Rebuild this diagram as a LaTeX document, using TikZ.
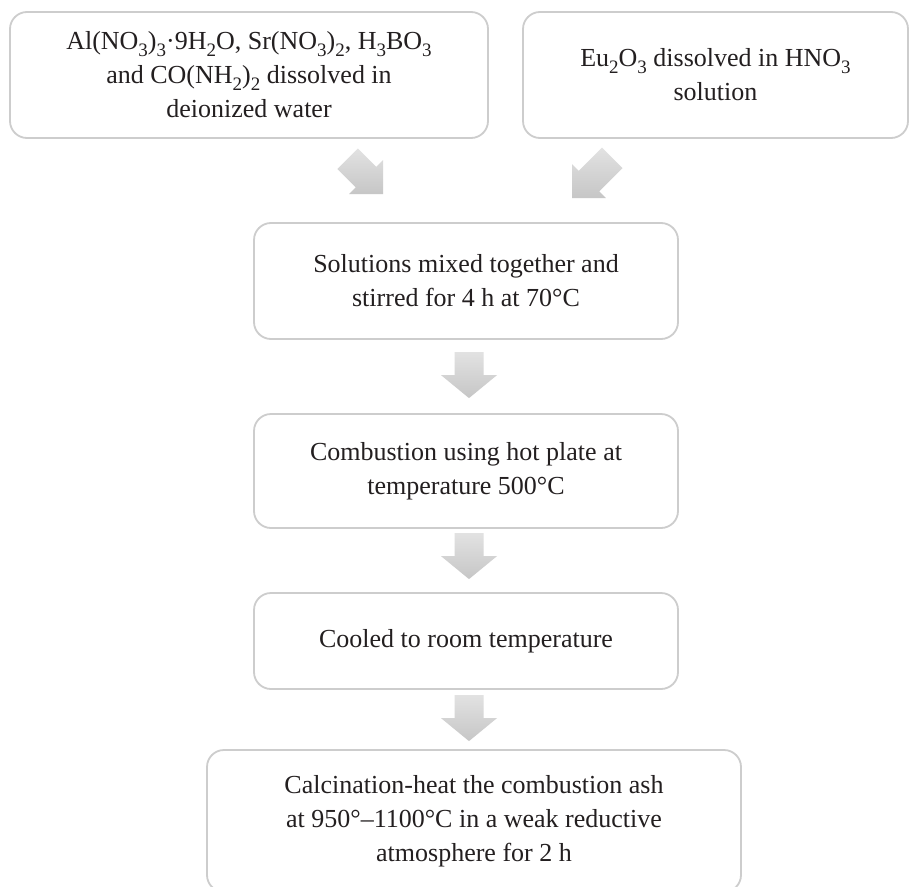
\documentclass[tikz,border=0pt]{standalone}
\usepackage{fontspec}
\setmainfont{Liberation Serif}
\usetikzlibrary{calc}
\definecolor{boxline}{RGB}{205,205,205}
\definecolor{arrtop}{RGB}{226,226,226}
\definecolor{arrbot}{RGB}{198,198,198}
\definecolor{txt}{RGB}{35,31,32}
\newcommand{\chsub}[1]{\raisebox{-0.26em}{\fontsize{19}{19}\selectfont #1}}
\newcommand{\varrow}[1]{%
  \shade[arrowshade] ($(#1)+(-14.5,-46)$) -- ($(#1)+(14.5,-46)$) -- ($(#1)+(14.5,-23)$)
    -- ($(#1)+(28,-23)$) -- (#1) -- ($(#1)+(-28,-23)$) -- ($(#1)+(-14.5,-23)$) -- cycle;}
\begin{document}
\begin{tikzpicture}[x=1pt,y=-1pt,
  stepbox/.style={draw=boxline,line width=1.8pt,rounded corners=17pt,fill=white,
    align=center,text=txt,font=\fontsize{26}{34}\selectfont,inner sep=0pt},
  arrowshade/.style={top color=arrtop,bottom color=arrbot,draw=none}]
\clip (0,0) rectangle (910,886);
\fill[white] (0,0) rectangle (910,886);
\node[stepbox,minimum width=478pt,minimum height=126pt] (b1) at (249,75)
  {Al(NO\chsub{3})\chsub{3}·9H\chsub{2}O, Sr(NO\chsub{3})\chsub{2}, H\chsub{3}BO\chsub{3}\\and CO(NH\chsub{2})\chsub{2} dissolved in\\deionized water};
\node[stepbox,minimum width=385pt,minimum height=126pt] (b2) at (715.5,75)
  {Eu\chsub{2}O\chsub{3} dissolved in HNO\chsub{3}\\solution};
\node[stepbox,minimum width=424pt,minimum height=116pt] (b3) at (466,281)
  {Solutions mixed together and\\stirred for 4 h at 70°C};
\node[stepbox,minimum width=424pt,minimum height=114pt] (b4) at (466,471)
  {Combustion using hot plate at\\temperature 500°C};
\node[stepbox,minimum width=424pt,minimum height=96pt] (b5) at (466,641)
  {Cooled to room temperature};
\node[stepbox,minimum width=534pt,minimum height=142pt] (b6) at (474,821)
  {Calcination-heat the combustion ash\\at 950°–1100°C in a weak reductive\\atmosphere for 2 h};
% diagonal arrows
\coordinate (tl) at ($(b3.north)+(-83,-28)$);
\coordinate (tr) at ($(b3.north)+(106,-24)$);
\shade[arrowshade] ($(tl)+(-25.1,-45.6)$) -- ($(tl)+(-6.7,-27.2)$) -- ($(tl)+(0,-33.9)$)
  -- (tl) -- ($(tl)+(-33.9,0)$) -- ($(tl)+(-27.2,-6.7)$) -- ($(tl)+(-45.6,-25.1)$) -- cycle;
\shade[arrowshade] ($(tr)+(30,-50.5)$) -- ($(tr)+(6.7,-27.2)$) -- ($(tr)+(0,-33.9)$)
  -- (tr) -- ($(tr)+(33.9,0)$) -- ($(tr)+(27.2,-6.7)$) -- ($(tr)+(50.5,-30)$) -- cycle;
% vertical arrows
\coordinate (t3) at ($(b4.north)+(3,-15)$);
\coordinate (t4) at ($(b5.north)+(3,-13)$);
\coordinate (t5) at ($(b6.north)+(-5,-8)$);
\varrow{t3}
\varrow{t4}
\varrow{t5}
\end{tikzpicture}
\end{document}
